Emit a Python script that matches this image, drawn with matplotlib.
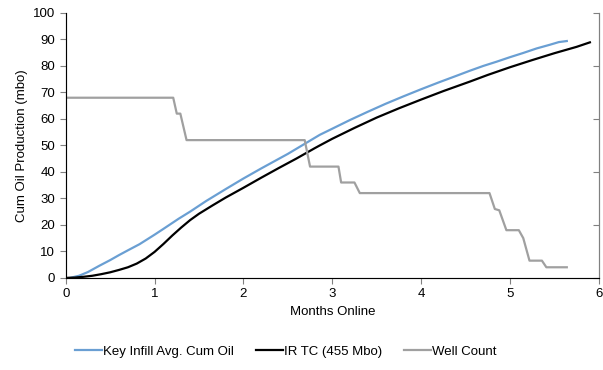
import numpy as np
import matplotlib.pyplot as plt

plt.rcParams['font.family'] = ['Liberation Sans', 'DejaVu Sans']

# Key Infill Avg. Cum Oil
blue_x = [0.05, 0.15, 0.25, 0.38, 0.5, 0.6, 0.7, 0.83, 0.92, 1.0, 1.1, 1.27, 1.4, 1.58, 1.8, 2.0,
          2.2, 2.5, 2.7, 2.86, 3.0, 3.2, 3.4, 3.6, 3.8, 4.0, 4.2, 4.4, 4.55, 4.7, 4.85, 5.0,
          5.15, 5.3, 5.45, 5.55, 5.64]
blue_y = [0, 0.8, 2.2, 4.6, 6.7, 8.6, 10.4, 12.7, 14.6, 16.3, 18.5, 22.3, 25.0, 29.0, 33.5, 37.5,
          41.3, 46.8, 50.8, 54.0, 56.3, 59.6, 62.7, 65.7, 68.5, 71.2, 73.8, 76.3, 78.2, 80.0, 81.6, 83.3,
          84.9, 86.6, 88.0, 89.0, 89.4]

# IR TC (455 Mbo)
tc_x = [0, 0.1, 0.2, 0.3, 0.4, 0.5, 0.6, 0.7, 0.8, 0.9, 1.0, 1.1, 1.2, 1.3, 1.4, 1.5, 1.65, 1.8,
        2.0, 2.2, 2.4, 2.6, 2.8, 2.86, 3.0, 3.25, 3.5, 3.75, 4.0, 4.25, 4.55, 4.75, 5.0, 5.25,
        5.5, 5.75, 5.9]
tc_y = [0, 0.1, 0.4, 0.8, 1.4, 2.1, 3.0, 4.0, 5.4, 7.3, 9.8, 12.8, 16.0, 19.0, 21.8, 24.2, 27.3, 30.3,
        34.0, 37.8, 41.5, 45.1, 48.9, 50.0, 52.5, 56.6, 60.5, 64.0, 67.3, 70.5, 74.1, 76.6, 79.5, 82.2,
        84.8, 87.2, 88.9]

# Well Count
wc_x = [0, 1.21, 1.25, 1.29, 1.36, 2.69, 2.75, 3.07, 3.10, 3.25, 3.31, 4.77, 4.83, 4.88, 4.96,
        5.10, 5.15, 5.22, 5.36, 5.41, 5.64]
wc_y = [68, 68, 62, 62, 52, 52, 42, 42, 36, 36, 32, 32, 26, 25.5, 18, 18, 15, 6.5, 6.5, 4, 4]

fig = plt.figure(figsize=(6.03, 3.70), dpi=100)
ax = fig.add_axes([0.109, 0.249, 0.884, 0.716])

ax.plot(blue_x, blue_y, color='#6a9fd3', lw=1.6, label='Key Infill Avg. Cum Oil')
ax.plot(tc_x, tc_y, color='black', lw=1.6, label='IR TC (455 Mbo)')
ax.plot(wc_x, wc_y, color='#a0a0a0', lw=1.6, label='Well Count')

ax.set_xlim(0, 6)
ax.set_ylim(0, 100)
ax.set_xticks(range(7))
ax.set_yticks(range(0, 101, 10))
ax.set_xlabel('Months Online', fontsize=9.5)
ax.set_ylabel('Cum Oil Production (mbo)', fontsize=9.5)
ax.tick_params(labelsize=9.5, color='#808080', length=4)

ax.spines['top'].set_visible(False)
for s in ['left', 'bottom', 'right']:
    ax.spines[s].set_color('#808080')

# second axis on the right, ticks only
ax2 = ax.twinx()
ax2.set_ylim(0, 100)
ax2.set_yticks(range(0, 101, 20))
ax2.tick_params(direction='in', labelright=False, color='#808080', length=4)
ax2.spines['top'].set_visible(False)
ax2.spines['right'].set_color('#808080')

ax.legend(loc='upper center', bbox_to_anchor=(0.413, -0.21), ncol=3, frameon=False,
          fontsize=9.5, handlelength=2.0, handletextpad=0.1, columnspacing=1.7)

plt.savefig('out.png', dpi=100)
